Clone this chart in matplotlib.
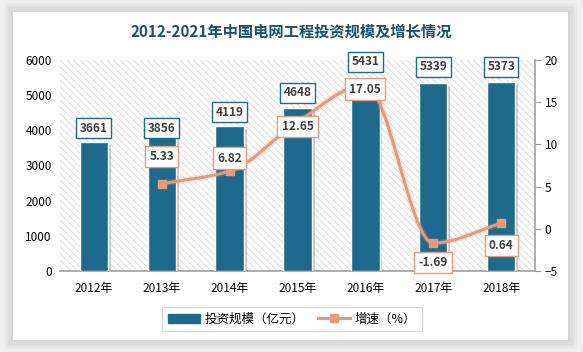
import matplotlib
matplotlib.use("Agg")
import numpy as np
from matplotlib import pyplot as plt
from matplotlib.path import Path
from matplotlib.patches import PathPatch, Rectangle
from matplotlib.lines import Line2D
import matplotlib.patheffects as pe

plt.rcParams['font.family'] = ['Noto Sans CJK SC', 'DejaVu Sans']
plt.rcParams['hatch.linewidth'] = 0.5
plt.rcParams['hatch.color'] = '#d0d0d0'

years = ['2012年', '2013年', '2014年', '2015年', '2016年', '2017年', '2018年']
invest = [3661, 3856, 4119, 4648, 5431, 5339, 5373]
growth_years = [1, 2, 3, 4, 5, 6]
growth = [5.33, 6.82, 12.65, 17.05, -1.69, 0.64]

bar_color = '#1d6a8d'
line_color = '#e9997a'
text_color = '#404040'

fig = plt.figure(figsize=(5.83, 3.52), dpi=100)
fig.patch.set_facecolor('#f0f0f0')

# card with soft shadow
for i, a in enumerate([0.05, 0.05, 0.06, 0.08]):
    d = (4 - i) * 0.004
    fig.patches.append(Rectangle((13 / 583 - d, 12 / 352 - d * 1.6), 555 / 583 + 2 * d,
                                 328 / 352 + 2 * d * 1.6, transform=fig.transFigure,
                                 facecolor='#808080', alpha=a, edgecolor='none', zorder=0))
fig.patches.append(Rectangle((13 / 583, 12 / 352), 555 / 583, 328 / 352, transform=fig.transFigure,
                             facecolor='white', edgecolor='none', zorder=1))

ax = fig.add_axes([60 / 583, 81 / 352, 475 / 583, 211 / 352])
ax.set_zorder(2)
ax.patch.set_facecolor('white')
ax.patch.set_hatch('\\\\\\\\\\')
ax.patch.set_edgecolor('#d4d4d4')
ax.patch.set_linewidth(0)

x = np.arange(len(years))
shadow = [pe.SimplePatchShadow(offset=(2, -2), shadow_rgbFace='#999999', alpha=0.5), pe.Normal()]
bars = ax.bar(x, invest, width=0.42, color=bar_color, edgecolor='white', linewidth=1.0, zorder=3,
              label='投资规模（亿元）')
for b in bars:
    b.set_path_effects(shadow)
bar_offsets = [10, 5, 10, 10.5, 13, 12, 11]
for xi, v, off in zip(x, invest, bar_offsets):
    ax.annotate(str(v), (xi, v), xytext=(0, off), textcoords='offset points', ha='center', va='center',
                fontsize=8.5, color=text_color, fontweight='bold', zorder=6,
                bbox=dict(boxstyle='square,pad=0.3', fc='white', ec=bar_color, lw=1.0))

ax.set_xlim(-0.5, 6.5)
ax.set_ylim(0, 6000)
ax.set_yticks(range(0, 6001, 1000))
ax.set_xticks(x)
ax.set_xticklabels(years)
ax.tick_params(axis='y', length=0, labelsize=8.5, colors='#000000', pad=6)
ax.tick_params(axis='x', length=0, labelsize=8.5, colors='#000000', pad=8)
for s in ['top', 'left', 'right']:
    ax.spines[s].set_visible(False)
ax.spines['bottom'].set_color('#a0a0a0')
ax.spines['bottom'].set_linewidth(1.2)

ax2 = ax.twinx()
ax2.set_ylim(-5, 20)
ax2.set_yticks(range(-5, 21, 5))
ax2.tick_params(axis='y', length=4, labelsize=8.5, pad=3, colors='#a0a0a0', labelcolor='#000000')
for s in ['top', 'left', 'bottom']:
    ax2.spines[s].set_visible(False)
ax2.spines['right'].set_color('#a0a0a0')
ax2.spines['right'].set_linewidth(1.2)

# smooth curve: monotone cubic tangents drawn as bezier segments
px = np.array(growth_years, dtype=float)
py = np.array(growth, dtype=float)
n = len(px)
h = np.diff(px)
dl = np.diff(py) / h
m = np.zeros(n)
m[0], m[-1] = dl[0], dl[-1]
for i in range(1, n - 1):
    if dl[i - 1] * dl[i] > 0:
        m[i] = 2 / (1 / dl[i - 1] + 1 / dl[i])
verts = [(px[0], py[0])]
codes = [Path.MOVETO]
for i in range(n - 1):
    c1 = (px[i] + h[i] / 3, py[i] + m[i] * h[i] / 3)
    c2 = (px[i + 1] - h[i] / 3, py[i + 1] - m[i + 1] * h[i] / 3)
    verts += [c1, c2, (px[i + 1], py[i + 1])]
    codes += [Path.CURVE4] * 3
curve = PathPatch(Path(verts, codes), facecolor='none', edgecolor=line_color, lw=2.2, zorder=4,
                  path_effects=[pe.Stroke(linewidth=4.5, foreground=line_color, alpha=0.2), pe.Normal()])
ax2.add_patch(curve)
ax2.plot(growth_years, growth, linestyle='none', marker='s', markersize=6, color=line_color, zorder=5)

offsets = [19.5, 9.5, -3, -3, -14, -16]
for xi, v, off in zip(growth_years, growth, offsets):
    ax2.annotate(f'{v:.2f}', (xi, v), xytext=(0, off), textcoords='offset points', ha='center',
                 va='center', fontsize=8.5, color=text_color, fontweight='bold', zorder=7,
                 bbox=dict(boxstyle='square,pad=0.35', fc='white', ec=line_color, lw=1.0))

# legend
handles = [Rectangle((0, 0), 1, 1, color=bar_color),
           Line2D([], [], color=line_color, lw=2.2, marker='s', markersize=6)]
fig.legend(handles, ['投资规模（亿元）', '增速（%）'], loc='center', bbox_to_anchor=(292 / 583, 1 - 319 / 352),
           ncol=2, frameon=True, fancybox=False, edgecolor='#d0d0d0', fontsize=9, handlelength=2.6,
           columnspacing=1.0, handletextpad=0.4, borderpad=0.45)

fig.text(0.5, 1 - 32 / 352, '2012-2021年中国电网工程投资规模及增长情况', ha='center', va='center',
         fontsize=11, fontweight='bold', color='#1d5070')

fig.savefig('out.png', dpi=100)
